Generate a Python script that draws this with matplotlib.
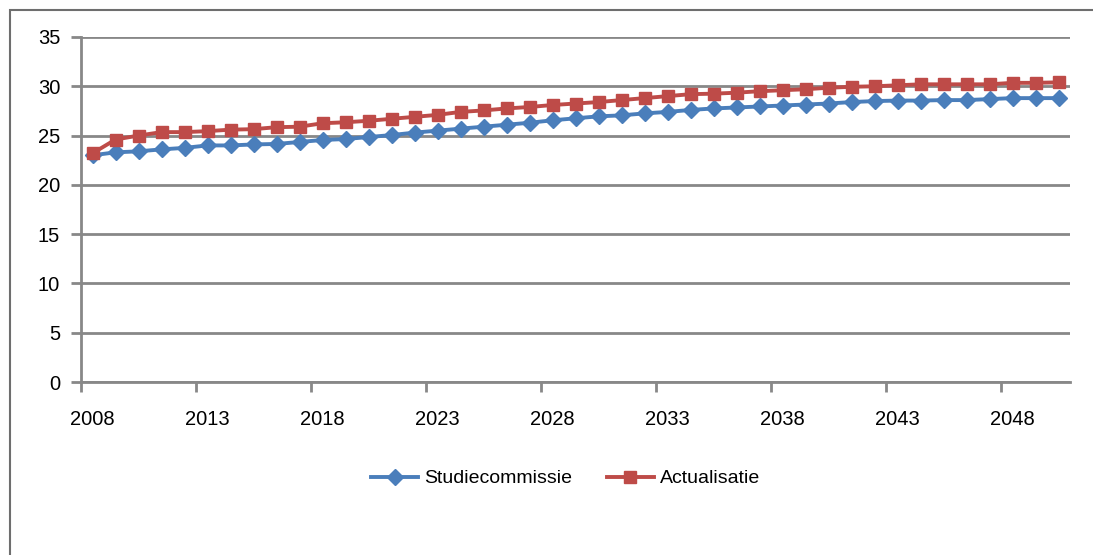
import numpy as np
import matplotlib
matplotlib.use('Agg')
import matplotlib.pyplot as plt
from matplotlib.patches import Rectangle

years = list(range(2008, 2051))
studiecommissie = [23.0, 23.3, 23.4, 23.6, 23.75, 24.0, 24.0, 24.1, 24.15, 24.35,
                   24.55, 24.65, 24.85, 25.05, 25.3, 25.5, 25.7, 25.9, 26.1, 26.3,
                   26.55, 26.75, 26.95, 27.05, 27.25, 27.4, 27.6, 27.75, 27.85, 27.95,
                   28.05, 28.15, 28.25, 28.4, 28.5, 28.55, 28.55, 28.6, 28.6, 28.7,
                   28.8, 28.8, 28.8]
actualisatie = [23.2, 24.6, 25.0, 25.35, 25.35, 25.45, 25.6, 25.65, 25.85, 25.9,
                26.25, 26.35, 26.5, 26.7, 26.9, 27.1, 27.4, 27.55, 27.75, 27.9,
                28.1, 28.25, 28.4, 28.6, 28.8, 29.0, 29.2, 29.25, 29.35, 29.5,
                29.6, 29.7, 29.85, 29.95, 30.0, 30.1, 30.2, 30.2, 30.2, 30.2,
                30.35, 30.35, 30.4]
tick_labels = [str(y) for y in years[::5]]

plt.rcParams['font.family'] = ['Liberation Sans', 'DejaVu Sans']
grid_col = '#888888'

fig = plt.figure(figsize=(10.93, 5.55), dpi=100)
# outer chart frame (Excel style)
fig.patches.append(Rectangle((10 / 1093, -0.1), 1.2, 1.1 - 10 / 555,
                             transform=fig.transFigure, fill=False,
                             edgecolor='#6e6e6e', lw=1.5))
ax = fig.add_axes([81 / 1093, 1 - 382 / 555, (1070 - 81) / 1093, (382 - 37) / 555])

x = np.arange(len(years)) + 0.5
ax.plot(x, studiecommissie, color='#4A7EBB', lw=2.8, marker='D', markersize=8,
        label='Studiecommissie', zorder=3)
ax.plot(x, actualisatie, color='#BE4B48', lw=2.8, marker='s', markersize=9,
        label='Actualisatie', zorder=4)

ax.set_xlim(0, len(years))
ax.set_ylim(0, 35)
ax.set_yticks(range(0, 36, 5))
ax.yaxis.grid(True, color=grid_col, lw=2)
ax.set_axisbelow(True)

# ticks at category boundaries, labels at category centres
ax.set_xticks(np.arange(0, len(years), 5))
ax.set_xticklabels([])
ax.set_xticks(x[::5], minor=True)
ax.set_xticklabels(tick_labels, minor=True)
ax.tick_params(axis='x', which='major', length=7, width=2, color=grid_col)
ax.tick_params(axis='x', which='minor', length=0, pad=20, labelsize=14.5)
ax.tick_params(axis='y', length=7, width=2, color=grid_col, labelsize=14.5, pad=8)

for s in ['top', 'right']:
    ax.spines[s].set_visible(False)
for s in ['left', 'bottom']:
    ax.spines[s].set_color(grid_col)
    ax.spines[s].set_linewidth(2)

ax.legend(loc='center', bbox_to_anchor=(0.49, -0.28), ncol=2, frameon=False,
          fontsize=14, handlelength=2.4, columnspacing=1.8, handletextpad=0.3)

fig.savefig('out.png', dpi=100)
